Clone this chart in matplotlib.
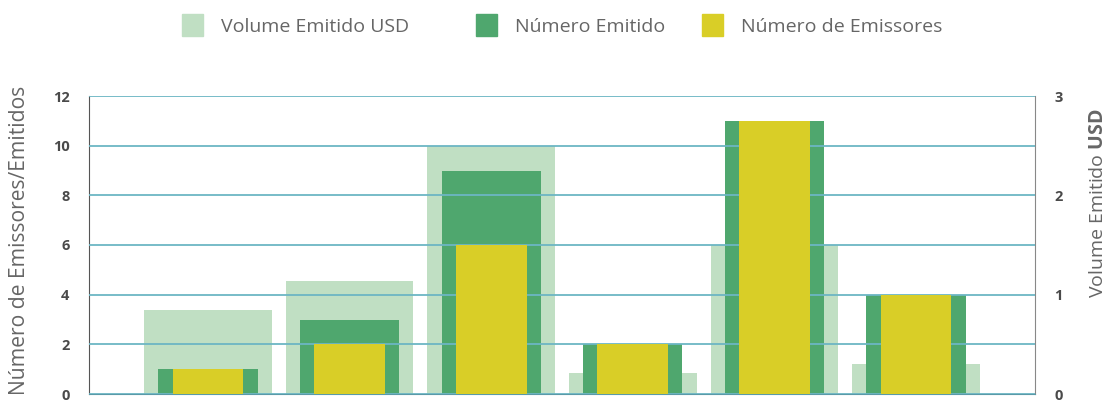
import numpy as np
import matplotlib
matplotlib.use("Agg")
import matplotlib.pyplot as plt
from matplotlib.patches import Patch

plt.rcParams['font.family'] = ['Open Sans', 'DejaVu Sans']
plt.rcParams['mathtext.fontset'] = 'custom'
plt.rcParams['mathtext.rm'] = 'Open Sans'
plt.rcParams['mathtext.bf'] = 'Open Sans:bold'

grupos = ["G1", "G2", "G3", "G4", "G5", "G6"]
volume_usd = [0.85, 1.14, 2.5, 0.21, 1.5, 0.3]
numero_emitido = [1, 3, 9, 2, 11, 4]
numero_emissores = [1, 2, 6, 2, 11, 4]

c_vol = "#c0dfc3"
c_emit = "#4fa76e"
c_emis = "#d9ce27"
c_grid = "#6cb6c4"
c_txt = "#666666"
c_tick = "#4a4a4a"

x = np.arange(len(grupos))

fig = plt.figure(figsize=(11.16, 4.03), dpi=100)
ax = fig.add_axes([89 / 1116, 9 / 403, 946 / 1116, 298 / 403])
ax2 = ax.twinx()

# volume on the right axis, kept behind the main axes
ax2.bar(x, volume_usd, width=0.9, color=c_vol, zorder=1)
ax2.set_ylim(0, 3)
ax2.set_yticks([0, 1, 2, 3])
ax.set_zorder(ax2.get_zorder() + 1)
ax.patch.set_visible(False)

ax.bar(x, numero_emitido, width=0.7, color=c_emit, zorder=1)
ax.bar(x, numero_emissores, width=0.5, color=c_emis, zorder=3)

ax.set_xlim(-0.84, 5.84)
ax.set_ylim(0, 12)
ax.set_yticks(range(0, 13, 2))
ax.set_xticks([])
ax.set_axisbelow(False)
ax.yaxis.grid(True, color=c_grid, linewidth=1.3)

for a in (ax, ax2):
    a.spines['top'].set_visible(False)
    a.tick_params(axis='y', length=0, colors=c_tick, labelsize=10.5)
    for lab in a.get_yticklabels():
        lab.set_fontweight('bold')
ax.spines['right'].set_visible(False)
ax.spines['left'].set_color("#555555")
ax.spines['bottom'].set_color("#5a9aa8")
ax2.spines['left'].set_visible(False)
ax2.spines['bottom'].set_visible(False)
ax2.spines['right'].set_color("#888888")
ax.tick_params(axis='y', pad=14)
ax2.tick_params(axis='y', pad=14)

ax.set_ylabel("Número de Emissores/Emitidos", fontsize=15.2, color=c_txt)
ax.yaxis.set_label_coords(-0.062, 0.515)
ax2.set_ylabel(r"Volume Emitido $\mathbf{USD}$", fontsize=14, color=c_txt)
ax2.yaxis.set_label_coords(1.057, 0.64)

labels = ["Volume Emitido USD", "Número Emitido", "Número de Emissores"]
colors = [c_vol, c_emit, c_emis]
leg_x = [183, 477, 703]
for lx, lab, col in zip(leg_x, labels, colors):
    lg = fig.legend([Patch(color=col)], [lab], loc='center left',
                    bbox_to_anchor=(lx / 1116 - 0.008, 1 - 25 / 403),
                    frameon=False, fontsize=14, labelcolor=c_txt, handlelength=1.1,
                    handleheight=1.3, handletextpad=0.9, borderaxespad=0)

fig.savefig("out.png", dpi=100)
